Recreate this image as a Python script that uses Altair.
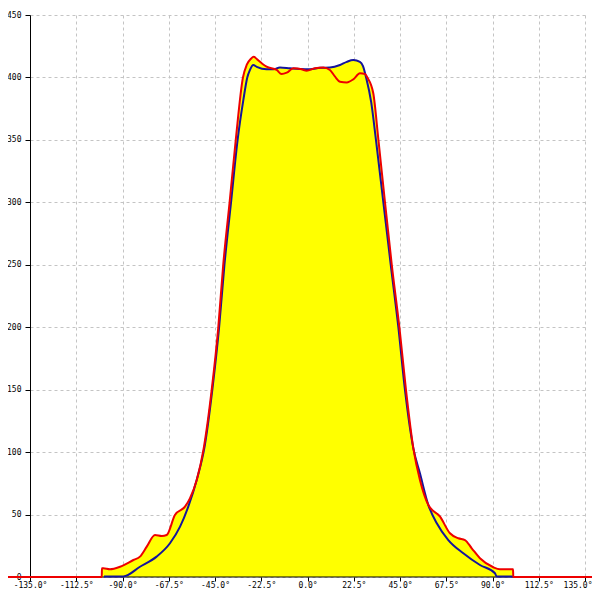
import altair as alt
import pandas as pd

# Red series (angle in degrees, intensity)
red_deg = [-150, -100.1, -100.0, -99.3, -96.1, -91.2, -84.7, -81.5, -78.2, -74.2, -70.9, -68.5, -64.5,
           -59.6, -57.2, -53.9, -50.5, -46.6, -43.4, -41.0, -37.9, -34.9, -31.4, -29.6, -27.5, -26.2,
           -24.5, -22, -19.9, -15.0, -12.6, -10.1, -6.9, -2.8, -0.4, 3.6, 7.7, 10.9, 13.4, 15.8, 19.1,
           22.3, 25.5, 28.0, 29.1, 32.0, 34.5, 37.7, 41.0, 44.7, 47.9, 51.5, 54.7, 58.8, 64.5, 69.3,
           73.4, 76.6, 79.9, 83.9, 90.4, 93.6, 100.0, 100.1, 150]
red_val = [0, 0, 7.0, 7.0, 6.2, 8.2, 13.6, 16.3, 24.3, 33.6, 32.8, 33.6, 49.6,
           56.3, 63, 77.7, 103, 150, 200, 250, 300, 350, 400, 410, 415, 416.5,
           414.5, 411, 408.6, 406, 402.7, 403.8, 407.3, 406.5, 405.4, 407.3, 408, 406, 400.6, 396.6, 396,
           398.5, 403.3, 402.7, 400, 387.3, 350, 300, 250, 200, 150, 103, 77.7, 57.6, 48.3, 35,
           31, 29.6, 23, 15, 7.8, 6.2, 6.2, 0, 0]

# Blue series
blue_deg = [-99, -89.6, -81.5, -73.4, -66.9, -62.0, -58.0, -53.9, -50.0, -46.3, -43.0, -40.4, -37.2,
            -34.0, -31.2, -29.3, -28.0, -26.4, -24.7, -19.9, -16.6, -13.4, -8.5, -3.6, 1.2, 6.1, 10.9,
            15.8, 19.1, 22.3, 25.5, 27.0, 28.5, 31.0, 33.3, 36.9, 40.5, 44.2, 47.4, 51.5, 54.7, 58.8,
            62.9, 68.5, 75.8, 83.9, 91.2, 92.0, 100.0]
blue_val = [0.5, 0.5, 8.2, 16.3, 27, 40.3, 56.3, 77.7, 105, 150, 200, 250, 300,
            350, 382, 400, 406, 410, 408.5, 406.5, 406.5, 408, 407.3, 406.7, 406.5, 407.7, 408,
            410, 412.5, 413.9, 412.5, 409, 400, 380, 350, 300, 250, 200, 150, 103, 83, 57.6,
            43, 29.6, 19, 9.6, 3, 0.5, 0.5]

x_ticks = [-135, -112.5, -90, -67.5, -45, -22.5, 0, 22.5, 45, 67.5, 90, 112.5, 135]
y_ticks = [0, 50, 100, 150, 200, 250, 300, 350, 400, 450]
baseline_range = [-135, 135]

red_df = pd.DataFrame({"deg": red_deg, "val": red_val})
blue_df = pd.DataFrame({"deg": blue_deg, "val": blue_val})
base_df = pd.DataFrame({"deg": [baseline_range[0]], "deg_end": [baseline_range[1]], "val": [0]})

FONT = "DejaVu Sans Mono"

x_enc = alt.X(
    "deg:Q",
    scale=alt.Scale(domain=[-135, 135], nice=False, zero=False),
    axis=alt.Axis(
        values=x_ticks,
        title=None,
        domain=False,
        tickColor="black",
        tickSize=4,
        labelPadding=0,
        labelFont=FONT,
        labelFontSize=8,
        labelColor="black",
        labelExpr="(datum.value < 0 ? '-' + format(-datum.value, '.1f') : format(datum.value, '.1f')) + '°'",
        labelAlign=alt.ExprRef(expr="datum.value == 135 ? 'right' : 'center'"),
        labelOffset=alt.ExprRef(expr="datum.value == 135 ? 7 : 0"),
        labelOverlap=False,
        labelFlush=False,
        gridColor="#c4c4c4",
        gridDash=[3, 3],
        gridWidth=1,
    ),
)
y_enc = alt.Y(
    "val:Q",
    scale=alt.Scale(domain=[0, 450], nice=False),
    axis=alt.Axis(
        values=y_ticks,
        title=None,
        domainColor="black",
        domainWidth=1,
        tickColor="black",
        tickSize=5,
        labelPadding=4,
        labelFont=FONT,
        labelFontSize=8,
        labelColor="black",
        labelOverlap=False,
        labelFlush=False,
        gridColor="#c4c4c4",
        gridDash=[3, 3],
        gridWidth=1,
    ),
)

area_red = alt.Chart(red_df).mark_area(color="#ffff00", interpolate="monotone").encode(x=x_enc, y=y_enc)
area_blue = alt.Chart(blue_df).mark_area(color="#ffff00", interpolate="monotone").encode(x=x_enc, y=y_enc)
baseline = alt.Chart(base_df).mark_rule(color="black", strokeWidth=1).encode(
    x=x_enc, x2="deg_end:Q", y=y_enc
)
line_blue = alt.Chart(blue_df).mark_line(color="#14149c", strokeWidth=2, interpolate="monotone").encode(x=x_enc, y=y_enc)
line_red = alt.Chart(red_df).mark_line(color="#ee0000", strokeWidth=2, interpolate="monotone").encode(x=x_enc, y=y_enc)

chart = alt.layer(area_red, area_blue, baseline, line_blue, line_red).properties(
    width=555,
    height=562,
    autosize=alt.AutoSizeParams(type="none"),
    padding={"left": 22, "top": 7, "right": 7, "bottom": 14},
    background="white",
).configure_view(stroke=None)

chart.save("out.html", embed_options={"renderer": "svg", "actions": False})
